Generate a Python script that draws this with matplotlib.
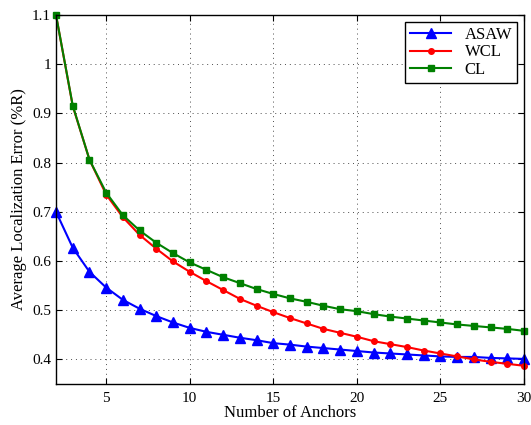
import numpy as np
import matplotlib.pyplot as plt

# Number of anchors
anchors = np.arange(2, 31)

# Average localization error (%R)
asaw = [0.700, 0.627, 0.578, 0.546, 0.521, 0.503, 0.488, 0.475, 0.464, 0.456,
        0.450, 0.444, 0.439, 0.433, 0.430, 0.426, 0.423, 0.420, 0.417, 0.414,
        0.412, 0.410, 0.408, 0.406, 0.405, 0.405, 0.403, 0.402, 0.401]
wcl = [1.100, 0.915, 0.806, 0.735, 0.689, 0.653, 0.625, 0.599, 0.578, 0.559,
       0.541, 0.523, 0.509, 0.496, 0.484, 0.473, 0.462, 0.454, 0.446, 0.437,
       0.431, 0.425, 0.418, 0.412, 0.406, 0.400, 0.395, 0.391, 0.387]
cl = [1.100, 0.916, 0.806, 0.739, 0.693, 0.662, 0.637, 0.616, 0.597, 0.582,
      0.567, 0.555, 0.543, 0.533, 0.524, 0.517, 0.509, 0.502, 0.498, 0.492,
      0.487, 0.483, 0.479, 0.475, 0.471, 0.468, 0.465, 0.462, 0.458]

plt.rcParams['font.family'] = ['Liberation Serif', 'DejaVu Serif']

fig = plt.figure(figsize=(5.31, 4.25), dpi=100)
ax = fig.add_axes([0.1055, 0.0965, 0.8813, 0.8682])

ax.plot(anchors, asaw, color='blue', marker='^', markersize=7, lw=1.5, label='ASAW', clip_on=False)
ax.plot(anchors, wcl, color='red', marker='o', markersize=4, lw=1.5, label='WCL', clip_on=False)
ax.plot(anchors, cl, color='green', marker='s', markersize=4, lw=1.5, label='CL', clip_on=False)

ax.set_xlim(2, 30)
ax.set_ylim(0.35, 1.1)
ax.set_xticks([5, 10, 15, 20, 25, 30])
ax.set_yticks([0.4, 0.5, 0.6, 0.7, 0.8, 0.9, 1.0, 1.1])
ax.set_yticklabels(['0.4', '0.5', '0.6', '0.7', '0.8', '0.9', '1', '1.1'])
ax.tick_params(direction='in', top=True, right=True, labelsize=11, length=4)
ax.tick_params(axis='x', pad=6)
ax.grid(True, linestyle=(0, (1, 4)), color='0.3', lw=0.7)
for s in ax.spines.values():
    s.set_linewidth(1.0)

ax.set_xlabel('Number of Anchors', fontsize=12, labelpad=0)
ax.set_ylabel('Average Localization Error (%R)', fontsize=12, labelpad=4)

leg = ax.legend(loc='upper right', fontsize=12, fancybox=False, framealpha=1,
                edgecolor='black', borderaxespad=0.4, handlelength=2.5,
                labelspacing=0.1, borderpad=0.3)
leg.get_frame().set_linewidth(1.0)
leg.set_zorder(5)

fig.savefig('out.png', dpi=100)
